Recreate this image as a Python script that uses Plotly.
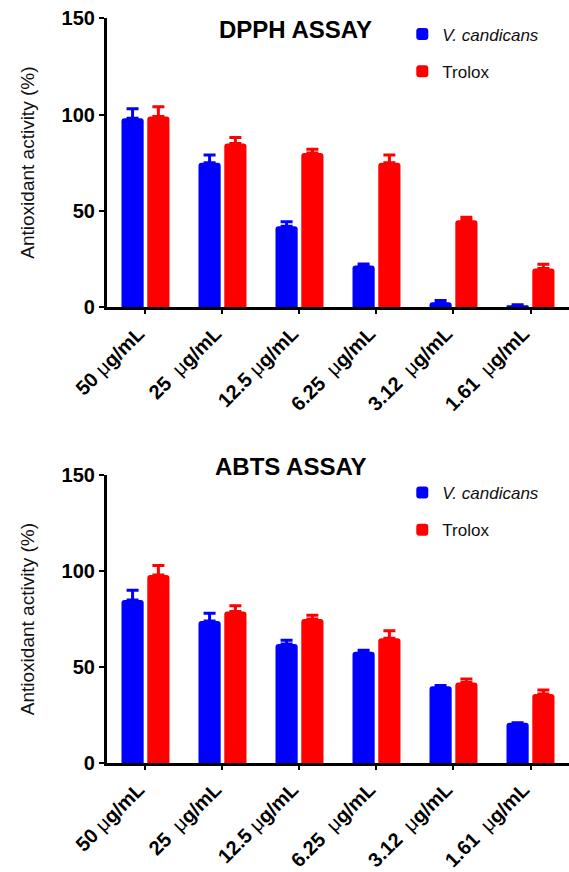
import plotly.graph_objects as go

# Concentrations tested (x categories)
concentrations = ["50 μg/mL", "25  μg/mL", "12.5 μg/mL", "6.25  μg/mL", "3.12  μg/mL", "1.61  μg/mL"]

# DPPH radical scavenging (%), mean and upper error
dpph_vc = [98, 75, 42, 21.5, 2.5, 0.8]
dpph_vc_err = [5, 4, 2.3, 0.8, 0.8, 0.3]
dpph_trolox = [99, 85, 80, 75, 45, 20]
dpph_trolox_err = [5, 3, 2, 4, 1.6, 2.2]

# ABTS radical scavenging (%), mean and upper error
abts_vc = [85, 74, 62, 58, 40, 21]
abts_vc_err = [5, 4, 2, 0.8, 0.4, 0]
abts_trolox = [98, 79, 75, 65, 42, 36]
abts_trolox_err = [5, 3, 2, 4, 1.8, 2]

BLUE = "#0000FF"
RED = "#FF0000"
FONT = "Arial, Liberation Sans, sans-serif"


def tick_text(label):
    num, unit = label.split("μ")
    return f"{num}<span style='font-weight:normal'>μ</span>{unit}"


def bar(name, y, err, color, xa, ya, legend):
    return go.Bar(
        x=concentrations, y=y, name=name,
        marker=dict(color=color, cornerradius=3, line=dict(width=0)),
        error_y=dict(type="data", array=err, arrayminus=[0] * len(err),
                     symmetric=False, color=color, thickness=3, width=6),
        xaxis=xa, yaxis=ya, legend=legend, showlegend=True,
        legendgroup=f"{legend}-{name}",
    )


fig = go.Figure()
fig.add_trace(bar("<i>V. candicans</i>", dpph_vc, dpph_vc_err, BLUE, "x", "y", "legend"))
fig.add_trace(bar("Trolox", dpph_trolox, dpph_trolox_err, RED, "x", "y", "legend"))
fig.add_trace(bar("<i>V. candicans</i>", abts_vc, abts_vc_err, BLUE, "x2", "y2", "legend2"))
fig.add_trace(bar("Trolox", abts_trolox, abts_trolox_err, RED, "x2", "y2", "legend2"))

xaxis_style = dict(
    domain=[0.188, 1.0], automargin=False,
    showline=True, linecolor="black", linewidth=3,
    ticks="outside", ticklen=4, tickwidth=2, tickcolor="black",
    tickangle=-45, tickvals=concentrations,
    ticktext=[tick_text(c) for c in concentrations],
    tickfont=dict(family=FONT, size=20, color="black", weight="bold"),
    ticklabelshift=-7, ticklabelstandoff=0,
    showgrid=False, zeroline=False,
)
yaxis_style = dict(
    range=[0, 150], tickvals=[0, 50, 100, 150], automargin=False,
    showline=True, linecolor="black", linewidth=3,
    ticks="outside", ticklen=5, tickwidth=2, tickcolor="black",
    tickfont=dict(family=FONT, size=20, color="black", weight="bold"),
    title=dict(text="Antioxidant activity (%)", standoff=22,
               font=dict(family=FONT, size=19, color="#111")),
    showgrid=False, zeroline=False,
)

legend_style = dict(
    x=0.707, xanchor="left", yanchor="top",
    font=dict(family=FONT, size=17, color="#111"),
    tracegroupgap=12, bgcolor="rgba(0,0,0,0)",
)

fig.update_layout(
    width=569, height=872,
    margin=dict(l=0, r=0, t=0, b=0, autoexpand=False),
    paper_bgcolor="white", plot_bgcolor="white",
    barmode="group", bargap=0.33, bargroupgap=0.14,
    font=dict(family=FONT, color="black"),
    xaxis=dict(**xaxis_style, anchor="y"),
    yaxis=dict(**yaxis_style, domain=[0.648, 0.979], anchor="x"),
    xaxis2=dict(**xaxis_style, anchor="y2"),
    yaxis2=dict(**yaxis_style, domain=[0.125, 0.455], anchor="x2"),
    legend=dict(**legend_style, y=0.981),
    legend2=dict(**legend_style, y=0.4553),
    annotations=[
        dict(text="<b>DPPH ASSAY</b>", x=0.52, y=0.9656, xref="paper", yref="paper",
             xanchor="center", yanchor="middle",
             showarrow=False, font=dict(family=FONT, size=24, color="black")),
        dict(text="<b>ABTS ASSAY</b>", x=0.511, y=0.4645, xref="paper", yref="paper",
             xanchor="center", yanchor="middle",
             showarrow=False, font=dict(family=FONT, size=24, color="black")),
    ],
)

fig.write_html("out.html")
